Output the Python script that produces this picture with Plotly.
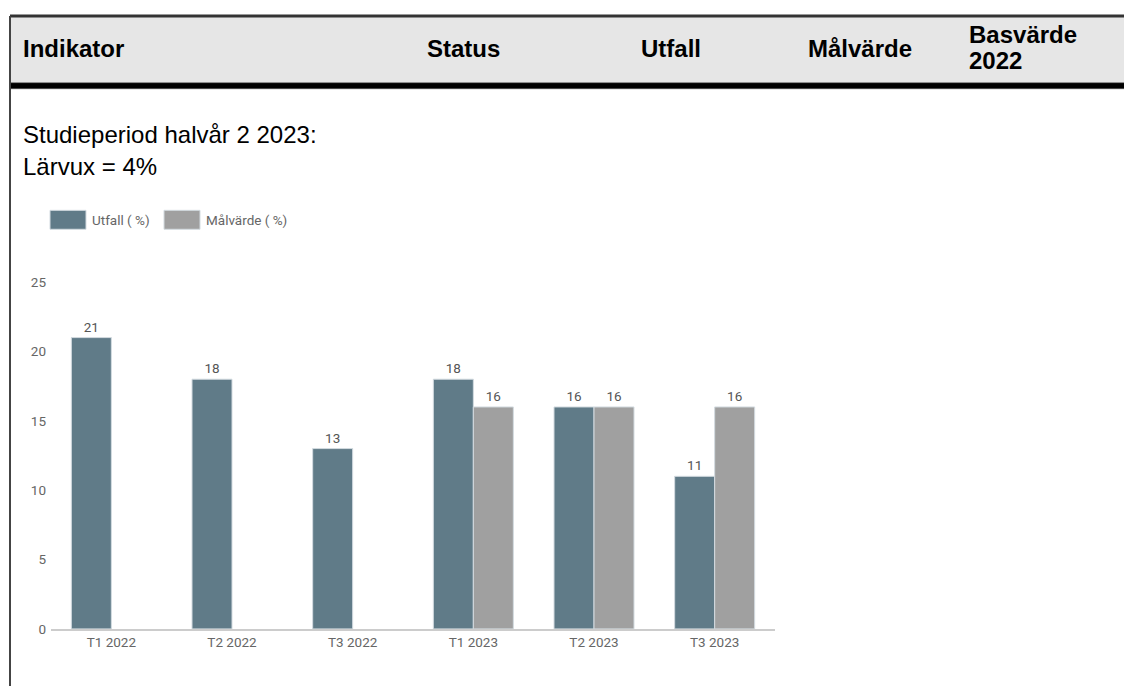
import plotly.graph_objects as go

# page body adds a margin around the figure; positions below are given in
# screen pixels and converted to paper fractions by px()/py()
OFF_X = 8
W, H = 1132 - OFF_X, 686
TOP, SY = 14, 0.98

categories = ["T1 2022", "T2 2022", "T3 2022", "T1 2023", "T2 2023", "T3 2023"]
utfall = [21, 18, 13, 18, 16, 11]
malvarde = [None, None, None, 16, 16, 16]
series_names = ["Utfall ( %)", "Målvärde ( %)"]
header_cols = ["Indikator", "Status", "Utfall", "Målvärde"]
header_last = ["Basvärde", "2022"]
intro_lines = ["Studieperiod halvår 2 2023:", "Lärvux = 4%"]

col_utfall = "#607b88"
col_mal = "#a0a0a0"
HEAD_FONT = "Liberation Sans, Arial"


def px(x):
    return (x - OFF_X) / W


def py(y):
    f = (y - TOP) / SY
    return min(1.0, max(0.0, 1 - f / H))


fig = go.Figure()
for name, vals, col in [(series_names[0], utfall, col_utfall), (series_names[1], malvarde, col_mal)]:
    fig.add_trace(go.Bar(
        x=categories, y=vals, name=name, marker_color=col,
        marker_line=dict(color="#d3dbe0", width=1),
        text=[("" if v is None else str(v)) for v in vals],
        textposition="outside", cliponaxis=False,
        textfont=dict(family="Roboto", size=13.5, color="#555555"),
        outsidetextfont=dict(family="Roboto", size=13.5, color="#555555"),
    ))

shapes = [
    # header background
    dict(type="rect", xref="paper", yref="paper", x0=px(10), x1=1.0, y0=py(81), y1=1.0,
         fillcolor="#e6e6e6", line=dict(width=0), layer="below"),
    dict(type="line", xref="paper", yref="paper", x0=px(10), x1=1.0, y0=1.0, y1=1.0,
         line=dict(color="#333333", width=3)),
    dict(type="rect", xref="paper", yref="paper", x0=px(10), x1=1.0, y0=py(87), y1=py(81),
         fillcolor="#000000", line=dict(color="#555555", width=0.5)),
    dict(type="line", xref="paper", yref="paper", x0=px(10), x1=px(10), y0=0, y1=1.0,
         line=dict(color="#444444", width=2)),
    # legend boxes
    dict(type="rect", xref="paper", yref="paper", x0=px(50), x1=px(86), y0=py(228), y1=py(209),
         fillcolor=col_utfall, line=dict(color="#d3dbe0", width=1)),
    dict(type="rect", xref="paper", yref="paper", x0=px(164), x1=px(200), y0=py(228), y1=py(209),
         fillcolor=col_mal, line=dict(color="#d3dbe0", width=1)),
]

annotations = []


def label(text, x, y, size, family, color="#000000"):
    annotations.append(dict(text=text, x=px(x), y=py(y), xref="paper", yref="paper",
                            xanchor="left", yanchor="middle", showarrow=False, align="left",
                            font=dict(family=family, size=size, color=color)))


for text, x in zip(header_cols, [21, 425, 639, 806]):
    label(f"<b>{text}</b>", x, 47, 24, HEAD_FONT)
for text, y in zip(header_last, [33, 59]):
    label(f"<b>{text}</b>", 967, y, 24, HEAD_FONT)
for text, y in zip(intro_lines, [133, 165]):
    label(text, 21, y, 24, HEAD_FONT)
for text, x in zip(series_names, [90, 204]):
    label(text, x, 219, 13.5, "Roboto", "#666666")

fig.update_layout(
    width=W, height=H, margin=dict(l=0, r=0, t=0, b=0),
    paper_bgcolor="white", plot_bgcolor="white",
    barmode="group", bargap=0.337, bargroupgap=0,
    showlegend=False, shapes=shapes, annotations=annotations,
    font=dict(family="Roboto", size=13.5, color="#666666"),
)
fig.update_xaxes(domain=[px(51), px(775)], showline=True, linecolor="#cccccc", linewidth=2,
                 ticks="", showgrid=False, tickfont=dict(size=13.5, color="#666666"))
fig.update_yaxes(domain=[py(629), py(281)], range=[0, 25], dtick=5, showgrid=False,
                 zeroline=False, showline=False, ticks="", ticklabelstandoff=4,
                 tickfont=dict(size=13.5, color="#666666"))

fig.write_html("out.html")
